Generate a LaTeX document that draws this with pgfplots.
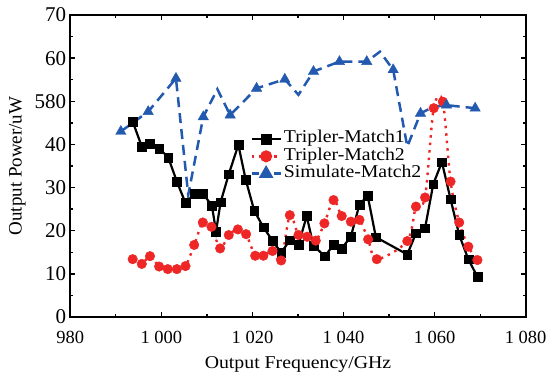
\documentclass[border=0pt]{standalone}
\usepackage{fontspec}
\setmainfont{Liberation Serif}[FakeStretch=1.10]
\newfontfamily\plainserif{Liberation Serif}
\usepackage{pgfplots}
\pgfplotsset{compat=1.18}
\usetikzlibrary{calc}
\definecolor{myblue}{RGB}{35,90,175}
\definecolor{myred}{RGB}{238,38,38}

\pgfplotstableread{
x y
993.7 45.3
995.7 39.5
997.5 40.1
999.5 39.1
1001.5 37.0
1003.4 31.4
1005.3 26.4
1007.2 28.5
1009.2 28.5
1011.1 25.8
1012.0 19.8
1013.0 26.6
1014.8 33.1
1016.9 39.9
1018.5 31.9
1020.4 24.6
1022.4 20.8
1024.4 17.7
1026.3 14.9
1028.2 17.8
1030.1 16.7
1031.9 23.4
1033.4 16.5
1035.9 14.1
1037.8 16.7
1039.6 15.9
1041.6 18.6
1043.5 26.1
1045.3 28.1
1047.1 18.5
1054.0 14.5
1055.9 19.4
1057.9 20.6
1059.7 30.8
1061.6 35.9
1063.5 27.3
1065.4 19.0
1067.4 13.4
1069.4 9.3
}\matchone

\pgfplotstableread{
x y
993.7 13.4
995.7 12.3
997.5 14.1
999.5 11.7
1001.4 11.1
1003.4 11.1
1005.3 11.8
1007.2 16.7
1009.1 21.9
1011.0 20.9
1012.9 15.9
1014.8 19.0
1016.8 20.3
1018.6 19.2
1020.6 14.2
1022.4 14.2
1024.4 15.3
1026.3 13.1
1028.2 23.6
1030.1 19.0
1032.0 18.6
1033.9 17.7
1035.8 21.7
1037.8 27.1
1039.6 23.4
1041.6 22.1
1043.5 22.5
1045.4 18.0
1047.3 13.4
1054.0 17.6
1055.9 25.6
1057.9 27.7
1059.8 48.4
1061.8 49.9
1063.5 31.4
1065.4 21.9
1067.4 16.3
1069.4 13.2
}\matchtwo

\pgfplotstableread{
x y
991.1 43.0
997.1 47.6
1003.2 55.3
1005.9 28.3
1009.2 46.4
1012.3 52.8
1015.1 46.8
1020.9 53.0
1027.1 55.1
1030.1 51.5
1033.4 56.9
1039.1 59.2
1045.1 59.2
1048.0 61.5
1050.9 57.3
1054.0 39.5
1056.9 47.2
1059.7 48.7
1062.6 49.1
1068.9 48.4
}\simtwo

\pgfplotstableread{
x y
991.1 43.0
997.1 47.6
1003.2 55.3
1009.2 46.4
1015.1 46.8
1020.9 53.0
1027.1 55.1
1033.4 56.9
1039.1 59.2
1045.1 59.2
1050.9 57.3
1056.9 47.2
1062.6 49.1
1068.9 48.4
}\simmarks

\begin{document}
\begin{tikzpicture}
\begin{axis}[
  scale only axis, width=455.4pt, height=302pt,
  xmin=980, xmax=1080, ymin=0, ymax=70,
  xtick={980,1000,...,1080},
  xticklabels={980,1 000,1 020,1 040,1 060,1 080},
  minor xtick={990,1010,...,1070},
  ytick={0,10,...,70},
  yticklabels={0,10,20,30,40,580,60,70},
  minor ytick={5,15,...,65},
  tick align=inside,
  major tick length=5pt, minor tick length=3pt,
  every tick/.style={line width=1.3pt, black},
  axis line style={line width=1.7pt},
  every tick label/.append style={inner sep=0pt},
  xticklabel style={font=\plainserif\fontsize{18.5}{18.5}\selectfont, yshift=-14pt},
  yticklabel style={font=\plainserif\fontsize{21}{21}\selectfont, xshift=-4pt},
  xlabel={Output Frequency/GHz},
  ylabel={\plainserif Output Power/uW},
  xlabel style={font=\fontsize{18}{18}\selectfont, at={(axis description cs:0.5,0)}, anchor=base, yshift=-52pt},
  ylabel style={font=\fontsize{19}{19}\selectfont, at={(axis description cs:-0.116,0.5)}, anchor=center},
  legend image code/.code={\draw[mark repeat=2,mark phase=2,#1] plot coordinates {(0pt,0pt) (14.5pt,0pt) (29pt,0pt)};},
  legend style={draw=none, fill=none, inner sep=0pt, at={(axis cs:1019.5,43.3)}, anchor=north west,
    font=\fontsize{18}{18}\selectfont, row sep=0pt,
    nodes={inner sep=0pt, text height=12.5pt, text depth=4.8pt},
    /tikz/every odd column/.style={column sep=2pt}},
  legend cell align=left,
]
\coordinate (SW) at (rel axis cs:0,0);
\coordinate (NE) at (rel axis cs:1,1);
\addplot[black, line width=2.2pt, forget plot] table[x=x,y=y]{\matchone};
\addplot[black, only marks, mark=square*, mark size=4.4pt, forget plot] table[x=x,y=y]{\matchone};
\addplot[myred, line width=2.4pt, dash pattern=on 2.5pt off 5pt, smooth, forget plot] table[x=x,y=y]{\matchtwo};
\addplot[myred, only marks, mark=*, mark size=4.8pt, forget plot] table[x=x,y=y]{\matchtwo};
\addplot[myblue, line width=2.5pt, dash pattern=on 10pt off 6pt, forget plot] table[x=x,y=y]{\simtwo};
\addplot[myblue, only marks, mark=triangle*, mark size=6pt, forget plot] table[x=x,y=y]{\simmarks};
\addlegendimage{black, line width=2.2pt, mark=square*, mark size=4.4pt, mark options={solid}}
\addlegendentry{Tripler-Match1}
\addlegendimage{myred, line width=2.4pt, dash pattern=on 2.5pt off 5pt, mark=*, mark size=4.8pt, mark options={solid}}
\addlegendentry{Tripler-Match2}
\addlegendimage{myblue, line width=2.5pt, dash pattern=on 7pt off 4pt, mark=triangle*, mark size=6pt, mark options={solid}}
\addlegendentry{Simulate-Match2}
\end{axis}
\pgfresetboundingbox
\path[use as bounding box] ($(SW)+(-70.3pt,-59pt)$) rectangle ($(NE)+(20.3pt,15pt)$);
\end{tikzpicture}
\end{document}
